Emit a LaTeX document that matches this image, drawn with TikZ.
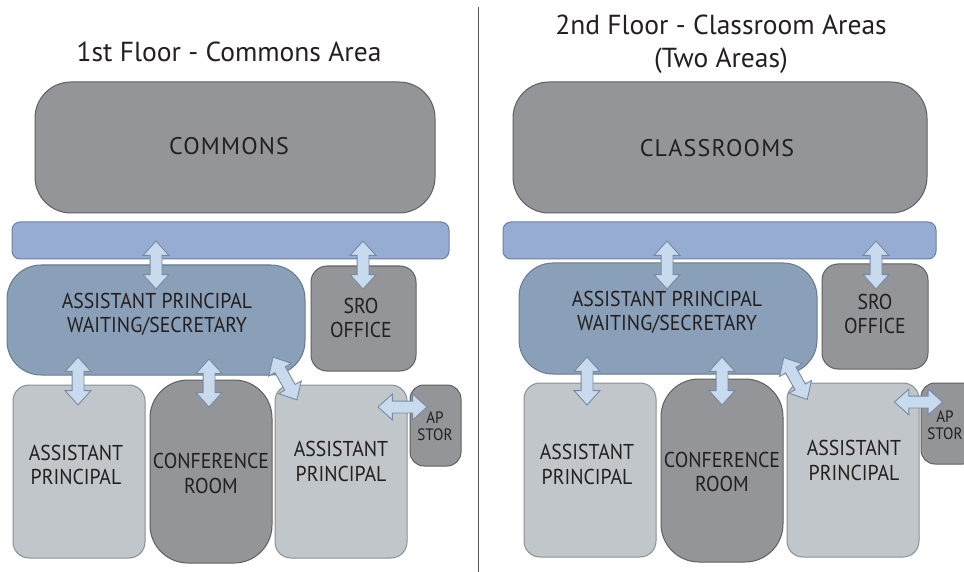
\documentclass[tikz,border=0pt]{standalone}
\usepackage{fontspec}
\setmainfont{PT Sans}
\newfontfamily\condfont[FakeStretch=0.92]{PT Sans}
\newfontfamily\widefont[LetterSpace=5]{PT Sans}
\usetikzlibrary{shapes.arrows}
\definecolor{txt}{HTML}{231F20}
\definecolor{darkfill}{HTML}{939598}
\definecolor{darkedge}{HTML}{5F6062}
\definecolor{barfill}{HTML}{97ACD3}
\definecolor{baredge}{HTML}{6A7FA5}
\definecolor{waitfill}{HTML}{8A9FB8}
\definecolor{waitedge}{HTML}{677A92}
\definecolor{lightfill}{HTML}{C1C6CA}
\definecolor{lightedge}{HTML}{8A8F93}
\definecolor{arrfill}{HTML}{C8DBEE}
\definecolor{arredge}{HTML}{7889A2}
\definecolor{divider}{HTML}{555555}
\tikzset{
  room/.style={draw, line width=1pt, inner sep=0pt},
  darkroom/.style={room, fill=darkfill, draw=darkedge},
  lightroom/.style={room, fill=lightfill, draw=lightedge},
  waitroom/.style={room, fill=waitfill, draw=waitedge},
  corridor/.style={room, fill=barfill, draw=baredge},
  lbl/.style={text=txt, align=center, inner sep=0pt,
    font=\condfont\fontsize{21.5}{24.5}\selectfont},
  smalllbl/.style={lbl, font=\condfont\fontsize{16.5}{17}\selectfont},
  biglbl/.style={lbl, font=\widefont\fontsize{24}{26}\selectfont},
  title/.style={text=txt, align=center, font=\fontsize{27.5}{33}\selectfont},
  dblarrow/.style={double arrow, draw=arredge, fill=arrfill, line width=0.9pt,
    inner xsep=0pt, inner ysep=5.5pt, minimum width=25pt,
    double arrow head extend=7pt, double arrow tip angle=84},
}
% \roomnode{style}{name}{x1}{y1}{x2}{y2}{radius}
\newcommand\roomnode[7]{%
  \node[#1, rounded corners=#7pt, minimum width={#5-#3}, minimum height={#6-#4}]
    (#2) at ({(#3+#5)/2},{(#4+#6)/2}) {};}
% \blockarrow{name}{x1}{y1}{x2}{y2}{length}
\newcommand\blockarrow[6]{%
  \coordinate (#1s) at (#2,#3);
  \coordinate (#1e) at (#4,#5);
  \path (#1s) -- node[dblarrow, sloped, minimum height=#6pt] (#1) {} (#1e);}
\begin{document}
\begin{tikzpicture}[x=1pt,y=-1pt]
\useasboundingbox (0,0) rectangle (964,572);
\clip (0,0) rectangle (964,572);
\fill[white] (0,0) rectangle (964,572);

% divider
\coordinate (divtop) at (478.5,7);
\coordinate (divbot) at (478.5,572);
\draw[divider, line width=1.4pt] (divtop) -- (divbot);

% ---------- left panel ----------
\node[title] (t1) at (229,52) {1st Floor - Commons Area};
\roomnode{darkroom}{commons}{35}{82}{435}{213}{36}
\roomnode{corridor}{bar}{12}{222}{449}{259}{8}
\roomnode{waitroom}{wait}{7}{265}{305}{375}{34}
\roomnode{darkroom}{sro}{311}{266}{416}{371}{16}
\roomnode{lightroom}{apa}{13}{385}{145}{558}{16}
\roomnode{darkroom}{conf}{150}{380}{272}{563}{38}
\roomnode{lightroom}{apb}{275}{385}{407}{558}{16}
\roomnode{darkroom}{stor}{410}{385}{461}{466}{14}

\node[biglbl] (commonsl) at (229,146) {COMMONS};
\node[lbl] (waitl) at (157,314.5) {ASSISTANT PRINCIPAL\\WAITING/SECRETARY};
\node[lbl] (srol) at (361,318) {SRO\\OFFICE};
\node[lbl] (apal) at (76,465) {ASSISTANT\\PRINCIPAL};
\node[lbl] (confl) at (211,473.5) {CONFERENCE\\ROOM};
\node[lbl] (apbl) at (341,461.5) {ASSISTANT\\PRINCIPAL};
\node[smalllbl] (storl) at (435,426) {AP\\STOR};

\blockarrow{a1}{156}{241}{156}{289}{48}
\blockarrow{a2}{363}{241}{363}{289}{48}
\blockarrow{a3}{78}{357}{78}{405}{48}
\blockarrow{a4}{209}{359}{209}{407}{48}
\blockarrow{a5}{273}{357}{297}{400}{49}
\blockarrow{a6}{378}{407}{427}{407}{49}

% ---------- right panel ----------
\node[title] (t2) at (721,44) {2nd Floor - Classroom Areas\\(Two Areas)};
\roomnode{darkroom}{classrooms}{513}{82}{927}{213}{36}
\roomnode{corridor}{barb}{503}{222}{936}{259}{8}
\roomnode{waitroom}{waitb}{519}{263}{817}{374}{34}
\roomnode{darkroom}{srob}{822}{264}{928}{369}{16}
\roomnode{lightroom}{apc}{524}{383}{656}{557}{16}
\roomnode{darkroom}{confb}{661}{379}{783}{562}{38}
\roomnode{lightroom}{apd}{787}{383}{919}{557}{16}
\roomnode{darkroom}{storb}{921}{383}{977}{464}{14}

\node[biglbl] (classroomsl) at (717,148) {CLASSROOMS};
\node[lbl] (waitbl) at (667,312.5) {ASSISTANT PRINCIPAL\\WAITING/SECRETARY};
\node[lbl] (srobl) at (875,314) {SRO\\OFFICE};
\node[lbl] (apcl) at (587,464.5) {ASSISTANT\\PRINCIPAL};
\node[lbl] (confbl) at (722,472) {CONFERENCE\\ROOM};
\node[lbl] (apdl) at (854,460.5) {ASSISTANT\\PRINCIPAL};
\node[smalllbl] (storbl) at (945,425) {AP\\STOR};

\blockarrow{b1}{667}{241}{667}{289}{48}
\blockarrow{b2}{876}{241}{876}{289}{48}
\blockarrow{b3}{587}{357}{587}{405}{48}
\blockarrow{b4}{722}{357}{722}{405}{48}
\blockarrow{b5}{784}{358}{807}{399}{48}
\blockarrow{b6}{895}{402}{942}{402}{48}
\end{tikzpicture}
\end{document}
